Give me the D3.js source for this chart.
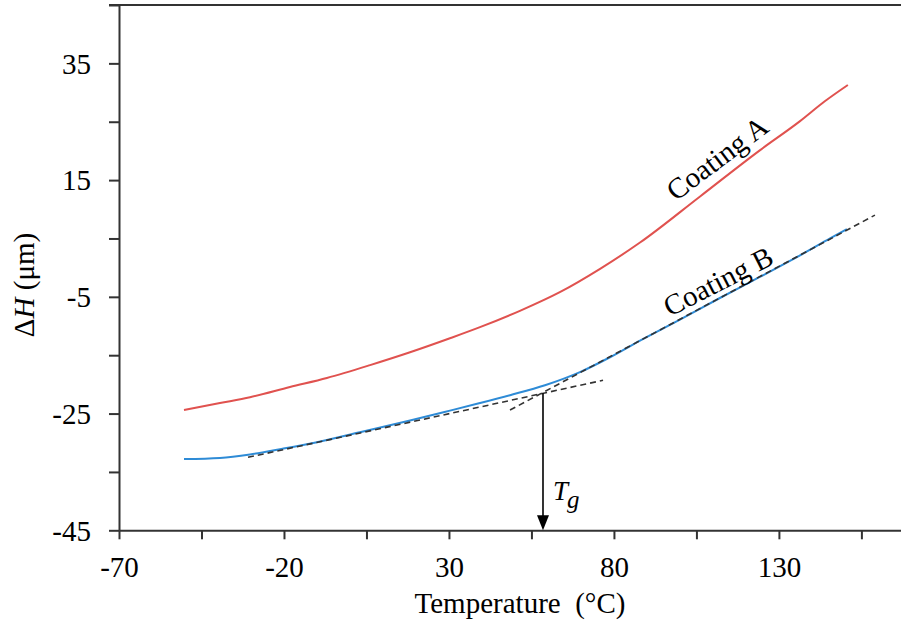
<!DOCTYPE html>
<html><head><meta charset="utf-8">
<script src="https://cdn.jsdelivr.net/npm/d3@7"></script>
<style>
body{margin:0;background:#fff}
svg{display:block}
svg text{font-family:"Liberation Serif","Times New Roman",serif !important;fill:#000}
</style>
</head><body>
<svg id="c" width="901" height="623"></svg>
<script>
// ---- data ----
const xTicks = [-70, -45, -20, 5, 30, 55, 80, 105, 130, 155];
const xLabels = [-70, -20, 30, 80, 130];
const yTicks = [-45, -35, -25, -15, -5, 5, 15, 25, 35, 45];
const yLabels = [-45, -25, -5, 15, 35];

const coatingA_T = [-50.3, -39.4, -30.3, -18.2, -7.0, 6.1, 18.2, 30.3, 39.4, 51.5, 63.6, 75.8, 87.9, 106.1, 124.2, 136.4, 143.9, 150.9];
const coatingA_H = [-24.4, -23.2, -22.2, -20.45, -18.9, -16.7, -14.5, -12.1, -10.2, -7.4, -4.2, -0.2, 4.3, 12.2, 20.1, 25.1, 28.5, 31.3];

const coatingB_T = [-50.3, -39.4, -30.3, -21.2, -10.0, 3.0, 18.2, 30.3, 39.4, 48.5, 59.1, 69.7, 78.8, 87.9, 100.0, 112.1, 124.2, 136.4, 145.5, 150.6];
const coatingB_H = [-32.8, -32.6, -32.0, -31.1, -29.9, -28.2, -26.2, -24.5, -23.2, -21.85, -20.15, -17.9, -15.35, -12.5, -8.9, -5.2, -1.6, 2.1, 5.0, 6.6];

const tangentLow_T = [-30.9, 76.7];
const tangentLow_H = [-32.5, -19.3];
const tangentHigh_T = [48.5, 159.1];
const tangentHigh_H = [-24.4, 9.0];

const Tg = 58.5;
const TgTop = -21.5;

const xDomain = [-70, 167];
const yDomain = [-45, 45];

// ---- chart ----
const svg = d3.select("#c");
const x = d3.scaleLinear().domain(xDomain).range([119, 901]);
const y = d3.scaleLinear().domain(yDomain).range([530.3, 5.0]);
const axisColor = "#333";
const serif = "'Liberation Serif', 'Times New Roman', serif";

// top frame line
svg.append("line").attr("x1", 109).attr("x2", 901).attr("y1", y(45)).attr("y2", y(45))
  .attr("stroke", axisColor).attr("stroke-width", 2);

const xAxis = d3.axisBottom(x).tickValues(xTicks).tickSize(9).tickSizeOuter(0)
  .tickFormat(d => xLabels.includes(d) ? String(d) : "");
const gx = svg.append("g").attr("transform", `translate(0,${y(-45)})`).call(xAxis)
  .attr("font-family", serif);
gx.select(".domain").attr("stroke", axisColor).attr("stroke-width", 2);
gx.selectAll(".tick line").attr("stroke", axisColor).attr("stroke-width", 2);
gx.selectAll(".tick text").attr("font-size", 29).attr("dy", null).attr("y", 47)
  .attr("fill", "#000");

const yAxis = d3.axisLeft(y).tickValues(yTicks).tickSize(10).tickSizeOuter(0)
  .tickFormat(d => yLabels.includes(d) ? String(d) : "");
const gy = svg.append("g").attr("transform", `translate(${x(-70)},0)`).call(yAxis)
  .attr("font-family", serif);
gy.select(".domain").attr("stroke", axisColor).attr("stroke-width", 2);
gy.selectAll(".tick line").attr("stroke", axisColor).attr("stroke-width", 2);
gy.selectAll(".tick text").attr("font-size", 29).attr("x", -28).attr("dy", "0.34em")
  .attr("fill", "#000");

// series
const line = d3.line().x(d => x(d[0])).y(d => y(d[1])).curve(d3.curveMonotoneX);
const A = coatingA_T.map((t, i) => [t, coatingA_H[i]]);
const B = coatingB_T.map((t, i) => [t, coatingB_H[i]]);

svg.append("path").attr("d", line(A)).attr("fill", "none").attr("stroke", "#e0524f").attr("stroke-width", 2);
svg.append("path").attr("d", line(B)).attr("fill", "none").attr("stroke", "#2e8bd6").attr("stroke-width", 2);

// tangent lines
const straight = d3.line().x(d => x(d[0])).y(d => y(d[1]));
[[tangentLow_T, tangentLow_H], [tangentHigh_T, tangentHigh_H]].forEach(([ts, hs]) => {
  svg.append("path").attr("d", straight(ts.map((t, i) => [t, hs[i]])))
    .attr("fill", "none").attr("stroke", "#333").attr("stroke-width", 1.6)
    .attr("stroke-dasharray", "6,4");
});

// Tg arrow
const ax = x(Tg);
svg.append("line").attr("x1", ax).attr("x2", ax).attr("y1", y(TgTop)).attr("y2", y(-45) - 12)
  .attr("stroke", "#000").attr("stroke-width", 1.6);
svg.append("path")
  .attr("d", `M${ax - 6},${y(-45) - 15} L${ax + 6},${y(-45) - 15} L${ax},${y(-45)} Z`)
  .attr("fill", "#000");
const tg = svg.append("text").attr("x", ax + 10).attr("y", 500).attr("font-size", 27)
  .attr("font-style", "italic").attr("font-family", serif);
tg.append("tspan").text("T");
tg.append("tspan").attr("font-size", 25).attr("dy", 8).attr("dx", -1).text("g");

// series labels
function rotLabel(txt, cx, cy, ang) {
  svg.append("text").attr("transform", `translate(${cx},${cy}) rotate(${ang})`)
    .attr("text-anchor", "middle").attr("dy", "0.35em").attr("font-size", 29)
    .attr("font-family", serif).text(txt);
}
rotLabel("Coating A", 717, 158, -37);
rotLabel("Coating B", 718, 281, -27);

// axis titles
svg.append("text").attr("x", 520).attr("y", 613).attr("text-anchor", "middle").attr("font-size", 29)
  .attr("font-family", serif).style("white-space", "pre").text("Temperature  (°C)");

const yt = svg.append("text").attr("transform", `translate(34,285) rotate(-90)`)
  .attr("text-anchor", "middle").attr("font-size", 29).attr("font-family", serif);
yt.append("tspan").text("Δ");
yt.append("tspan").attr("font-style", "italic").text("H");
yt.append("tspan").text(" (μm)");
</script>
</body></html>
